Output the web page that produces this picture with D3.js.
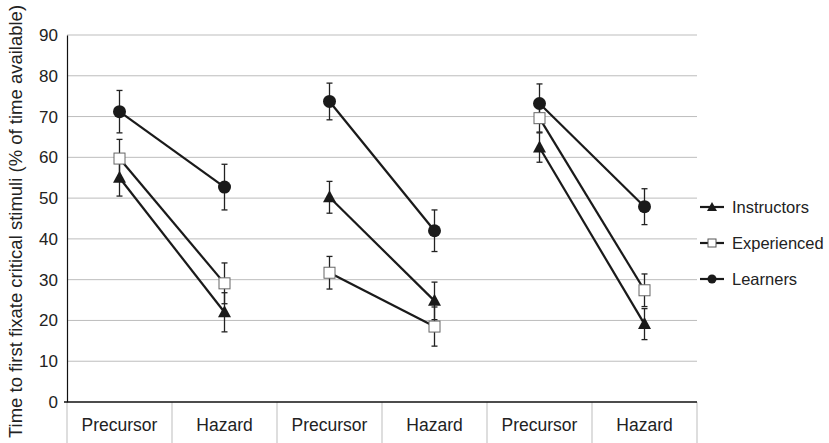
<!DOCTYPE html>
<html>
<head>
<meta charset="utf-8">
<script src="https://cdn.jsdelivr.net/npm/d3@7/dist/d3.min.js"></script>
<style>
  body { margin: 0; background: #fff; }
  text { font-family: "Liberation Sans", Arial, sans-serif; fill: #222; }
</style>
</head>
<body>
<div id="chart"></div>
<script>
// data
const categories = ['Precursor', 'Hazard', 'Precursor', 'Hazard', 'Precursor', 'Hazard'];
const seriesNames = ['Instructors', 'Experienced', 'Learners'];
const instructors = [55.0, 22.0, 50.2, 24.8, 62.4, 19.1];
const instructorsErr = [4.5, 4.8, 3.9, 4.6, 3.6, 3.8];
const experienced = [59.7, 29.1, 31.7, 18.5, 69.6, 27.4];
const experiencedErr = [4.7, 5.0, 4.0, 4.8, 3.4, 4.0];
const learners = [71.2, 52.7, 73.7, 42.0, 73.2, 47.9];
const learnersErr = [5.2, 5.6, 4.5, 5.1, 4.8, 4.4];
const yTicks = [0, 10, 20, 30, 40, 50, 60, 70, 80, 90];

const W = 829, H = 443;
const margin = {top: 35, right: 132, bottom: 41, left: 67};

let svg = d3.select('#chart').append('svg')
            .attr('width', W)
            .attr('height', H);

const x = d3.scaleBand()
            .domain(d3.range(categories.length))
            .range([margin.left, W - margin.right]);
const y = d3.scaleLinear()
            .domain([0, 90])
            .range([H - margin.bottom, margin.top]);

// gridlines
svg.append('g').selectAll('line.grid').data(yTicks.filter(d => d > 0))
   .join('line')
   .attr('class', 'grid')
   .attr('x1', margin.left).attr('x2', W - margin.right)
   .attr('y1', d => y(d)).attr('y2', d => y(d))
   .attr('stroke', '#bdbdbd').attr('stroke-width', 1);

// y axis
let yAxis = svg.append('g')
               .attr('transform', `translate(${margin.left},0)`)
               .call(d3.axisLeft(y).tickValues(yTicks).tickSize(0).tickPadding(9));
yAxis.select('.domain').attr('stroke', '#111').attr('stroke-width', 1.2);
yAxis.selectAll('text').style('font-size', '17px').style('font-family', '"Liberation Sans", Arial, sans-serif').attr('fill', '#222');

// x axis: category separators + labels
const bounds = d3.range(categories.length + 1).map(i => margin.left + i * x.bandwidth());
svg.append('g').selectAll('line.sep').data(bounds)
   .join('line')
   .attr('x1', d => d).attr('x2', d => d)
   .attr('y1', y(0)).attr('y2', H)
   .attr('stroke', '#bdbdbd').attr('stroke-width', 1);
svg.append('line')
   .attr('x1', margin.left - 3).attr('x2', W - margin.right)
   .attr('y1', y(0)).attr('y2', y(0))
   .attr('stroke', '#111').attr('stroke-width', 1.4);
svg.append('g').selectAll('text.cat').data(categories)
   .join('text')
   .attr('x', (d, i) => x(i) + x.bandwidth() / 2)
   .attr('y', 431)
   .attr('text-anchor', 'middle')
   .style('font-size', '17.5px')
   .text(d => d);

// y title
svg.append('text')
   .attr('transform', `translate(22,${H / 2}) rotate(-90)`)
   .attr('text-anchor', 'middle')
   .style('font-size', '18.5px')
   .text('Time to first fixate critical stimuli (% of time available)');

const series = [
  {name: 'Instructors', vals: instructors, err: instructorsErr, shape: 'tri'},
  {name: 'Experienced', vals: experienced, err: experiencedErr, shape: 'sq'},
  {name: 'Learners', vals: learners, err: learnersErr, shape: 'circ'}
];
const cx = i => x(i) + x.bandwidth() / 2;

function drawMarker(g, shape, px, py) {
  if (shape === 'circ') {
    g.append('circle').attr('cx', px).attr('cy', py).attr('r', 6.5).attr('fill', '#1a1a1a');
  } else if (shape === 'sq') {
    g.append('rect').attr('x', px - 5.5).attr('y', py - 5.5).attr('width', 11).attr('height', 11)
     .attr('fill', '#fff').attr('stroke', '#666').attr('stroke-width', 1);
  } else {
    g.append('path').attr('d', `M${px},${py - 7}L${px + 6.5},${py + 5}L${px - 6.5},${py + 5}Z`)
     .attr('fill', '#1a1a1a');
  }
}

let marks = svg.append('g');
// error bars
series.forEach(s => {
  s.vals.forEach((v, i) => {
    const lo = y(v - s.err[i]), hi = y(v + s.err[i]), px = cx(i);
    marks.append('line').attr('x1', px).attr('x2', px).attr('y1', lo).attr('y2', hi)
         .attr('stroke', '#222').attr('stroke-width', 1.3);
    [lo, hi].forEach(yy => marks.append('line')
         .attr('x1', px - 3).attr('x2', px + 3).attr('y1', yy).attr('y2', yy)
         .attr('stroke', '#222').attr('stroke-width', 1.3));
  });
});
// connecting lines (precursor -> hazard within each group)
series.forEach(s => {
  for (let g = 0; g < 3; g++) {
    const a = 2 * g, b = 2 * g + 1;
    marks.append('line')
         .attr('x1', cx(a)).attr('y1', y(s.vals[a]))
         .attr('x2', cx(b)).attr('y2', y(s.vals[b]))
         .attr('stroke', '#1a1a1a').attr('stroke-width', 2.2);
  }
});
// markers
series.forEach(s => s.vals.forEach((v, i) => drawMarker(marks, s.shape, cx(i), y(v))));

// legend
let legend = svg.append('g');
const legendY = [207, 243, 279];
series.forEach((s, k) => {
  legend.append('line').attr('x1', 700).attr('x2', 724)
        .attr('y1', legendY[k]).attr('y2', legendY[k])
        .attr('stroke', '#1a1a1a').attr('stroke-width', 2.2);
  if (s.shape === 'circ') {
    legend.append('circle').attr('cx', 712).attr('cy', legendY[k]).attr('r', 4.5).attr('fill', '#1a1a1a');
  } else if (s.shape === 'sq') {
    legend.append('rect').attr('x', 708).attr('y', legendY[k] - 4).attr('width', 8).attr('height', 8)
          .attr('fill', '#fff').attr('stroke', '#555');
  } else {
    legend.append('path').attr('d', `M712,${legendY[k] - 5}L717,${legendY[k] + 4}L707,${legendY[k] + 4}Z`)
          .attr('fill', '#1a1a1a');
  }
  legend.append('text').attr('x', 732).attr('y', legendY[k] + 6)
        .style('font-size', '16.5px').text(s.name);
});
</script>
</body>
</html>
